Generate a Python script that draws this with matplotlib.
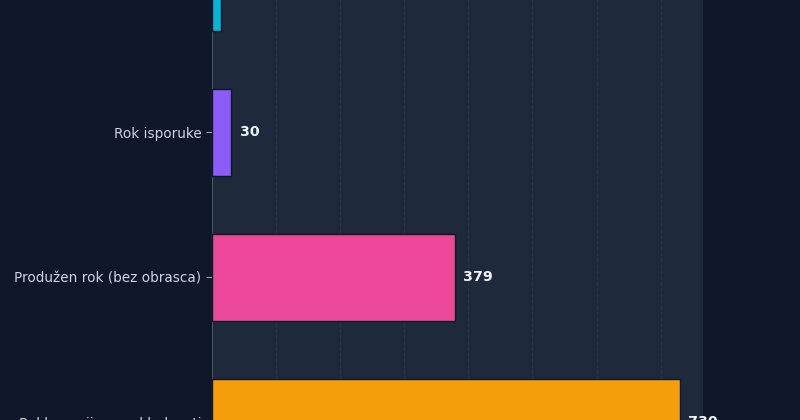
import matplotlib.pyplot as plt

# Podaci (procijenjeno s grafa)
kategorije = ['Ostalo', 'Rok isporuke', 'Produžen rok (bez obrasca)', 'Reklamacija nesukladnosti']
vrijednosti = [14, 30, 379, 730]
boje = ['#06b6d4', '#8b5cf6', '#ec4899', '#f59e0b']

BG_FIG = '#0f172a'
BG_AX = '#1e293b'

fig = plt.figure(figsize=(8, 4.2), dpi=100, facecolor=BG_FIG)
# os je veca od slike - gornji i donji dio su odrezani
ax = fig.add_axes([0.265, -0.178, 0.614, 1.381])
ax.set_facecolor(BG_AX)

pozicije = list(range(len(kategorije)))
ax.barh(pozicije, vrijednosti, height=0.6, color=boje,
        edgecolor=BG_FIG, linewidth=1, zorder=3)

for y, v in zip(pozicije, vrijednosti):
    ax.annotate(f'{v}', xy=(v, y), xytext=(6, 0), textcoords='offset points',
                va='center', ha='left', color='#f1f5f9',
                fontsize=10.3, fontweight='bold')

ax.set_yticks(pozicije)
ax.set_yticklabels(kategorije, fontsize=9.8, color='#cbd5e1')
ax.set_ylim(3.5, -0.5)
ax.set_xlim(0, max(vrijednosti) * 1.05)

ax.grid(axis='x', color='#334155', linestyle='--', linewidth=0.8, alpha=0.5, zorder=0)
ax.set_axisbelow(True)
ax.tick_params(axis='y', colors='#94a3b8', length=4, labelcolor='#cbd5e1')
ax.tick_params(axis='x', colors='#94a3b8', labelcolor='#cbd5e1')

for s in ['top', 'right']:
    ax.spines[s].set_visible(False)
ax.spines['left'].set_color('#475569')
ax.spines['bottom'].set_color('#475569')

plt.savefig('out.png', dpi=100, facecolor=BG_FIG)
